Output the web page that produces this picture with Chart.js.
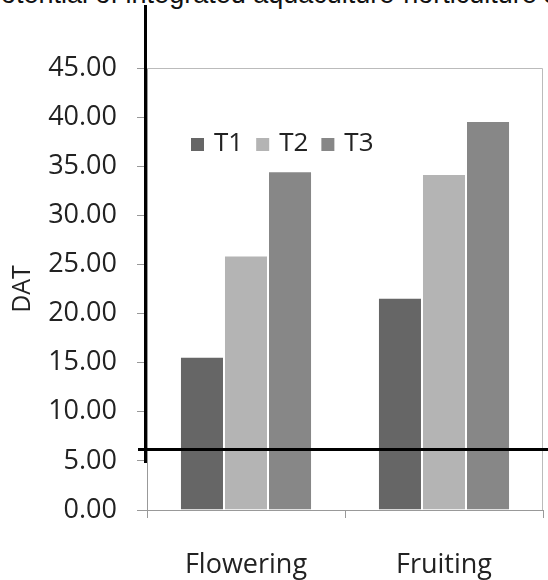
<!DOCTYPE html>
<html>
<head>
<meta charset="utf-8">
<script src="https://cdn.jsdelivr.net/npm/chart.js@4.4.1/dist/chart.umd.min.js"></script>
<style>
  html, body { margin: 0; padding: 0; background: #fff; }
  #wrap { position: relative; width: 548px; height: 580px; overflow: hidden; }
  #cut_title {
    position: absolute; left: -14px; top: -21px; white-space: nowrap;
    font-family: 'Liberation Sans', Arial, sans-serif; font-size: 27px; color: #111;
  }
  canvas { position: absolute; left: 0; top: 0; }
</style>
</head>
<body>
<div id="wrap">
  <div id="cut_title">potential of integrated aquaculture-horticulture system</div>
  <canvas id="chart" width="548" height="580"></canvas>
</div>
<script>
'use strict';

let categories = ['Flowering', 'Fruiting'];
let seriesNames = ['T1', 'T2', 'T3'];
let t1Values = [15.6, 21.6];
let t2Values = [25.9, 34.2];
let t3Values = [34.5, 39.6];
let yTicks = [0, 5, 10, 15, 20, 25, 30, 35, 40, 45];
let barColors = ['#666666', '#b4b4b4', '#878787'];

let fontName = "'Open Sans', 'Noto Sans', sans-serif";

// legend sits inside the plot, so draw it ourselves
let innerLegend = {
  id: 'innerLegend',
  afterDatasetsDraw(chart) {
    let ctx = chart.ctx;
    let area = chart.chartArea;
    let x = area.left + 44;
    let y = area.top + 76;
    ctx.save();
    ctx.font = '26px ' + fontName;
    ctx.textBaseline = 'middle';
    chart.data.datasets.forEach(function (ds) {
      ctx.fillStyle = ds.backgroundColor;
      ctx.fillRect(x, y - 6, 13, 13);
      x += 23;
      ctx.fillStyle = '#222';
      ctx.fillText(ds.label, x, y);
      x += ctx.measureText(ds.label).width + 13;
    });
    ctx.restore();
  }
};

// plot border plus the two heavy black lines over the figure
let frameLines = {
  id: 'frameLines',
  beforeDatasetsDraw(chart) {
    let ctx = chart.ctx;
    let a = chart.chartArea;
    ctx.save();
    ctx.strokeStyle = '#bbbbbb';
    ctx.lineWidth = 1;
    ctx.beginPath();
    ctx.moveTo(a.left, a.top + 0.5);
    ctx.lineTo(a.right - 0.5, a.top + 0.5);
    ctx.lineTo(a.right - 0.5, a.bottom);
    ctx.stroke();
    ctx.restore();
  },
  afterDraw(chart) {
    let ctx = chart.ctx;
    ctx.save();
    ctx.strokeStyle = '#000';
    ctx.lineWidth = 3;
    ctx.beginPath();
    ctx.moveTo(145.5, 5);
    ctx.lineTo(145.5, 463);
    ctx.moveTo(138, 449.5);
    ctx.lineTo(548, 449.5);
    ctx.stroke();
    ctx.restore();
  }
};

let allValues = [t1Values, t2Values, t3Values];
let datasets = [];
for (let i = 0; i < seriesNames.length; i++) {
  datasets.push({
    label: seriesNames[i],
    data: allValues[i],
    backgroundColor: barColors[i],
    borderColor: 'rgba(255,255,255,0.35)',
    borderWidth: 1,
    barPercentage: 1,
    categoryPercentage: 0.667
  });
}

let ctx = document.getElementById('chart').getContext('2d');
let chart = new Chart(ctx, {
  type: 'bar',
  data: {
    labels: categories,
    datasets: datasets
  },
  plugins: [frameLines, innerLegend],
  options: {
    responsive: false,
    animation: false,
    layout: { padding: { top: 68, right: 5, left: 0, bottom: 0 } },
    plugins: {
      legend: { display: false },
      tooltip: { enabled: false }
    },
    scales: {
      x: {
        offset: true,
        grid: {
          offset: true,
          drawOnChartArea: false,
          tickLength: 8,
          color: '#999'
        },
        border: { color: '#999' },
        ticks: {
          color: '#222',
          padding: 31,
          font: { family: fontName, size: 27 }
        },
        afterFit(scale) { scale.height = 70; }
      },
      y: {
        min: 0,
        max: 45,
        afterBuildTicks(scale) {
          scale.ticks = yTicks.map(function (v) { return { value: v }; });
        },
        grid: {
          drawOnChartArea: false,
          tickLength: 10,
          color: '#999'
        },
        border: { color: '#999' },
        ticks: {
          color: '#222',
          padding: 20,
          font: { family: fontName, size: 27 },
          callback: function (v) { return Number(v).toFixed(2); }
        },
        title: {
          display: true,
          text: 'DAT',
          color: '#222',
          font: { family: fontName, size: 25 },
          padding: { top: 8, bottom: 0 }
        },
        afterFit(scale) { scale.width = 147; }
      }
    }
  }
});
</script>
</body>
</html>
